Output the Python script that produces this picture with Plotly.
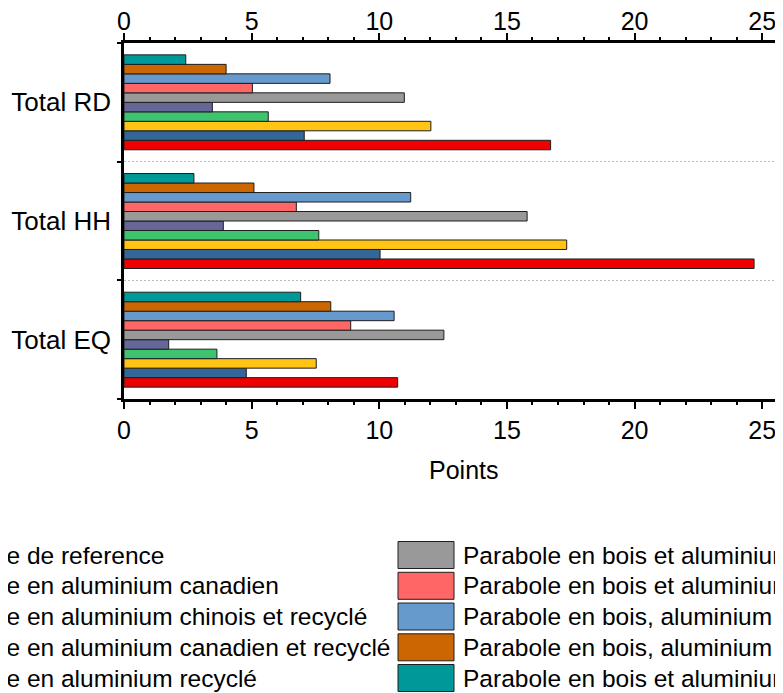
import plotly.graph_objects as go

categories = ["Total EQ", "Total HH", "Total RD"]

series_names = [
    "Parabole de reference",
    "Parabole en aluminium canadien",
    "Parabole en aluminium chinois et recyclé",
    "Parabole en aluminium canadien et recyclé",
    "Parabole en aluminium recyclé",
    "Parabole en bois et aluminium chinois",
    "Parabole en bois et aluminium canadien",
    "Parabole en bois, aluminium chinois et recyclé",
    "Parabole en bois, aluminium canadien et recyclé",
    "Parabole en bois et aluminium recyclé",
]

# values per series, in the order of categories (EQ, HH, RD)
reference = [10.72, 24.68, 16.71]
alu_canadien = [4.79, 10.03, 7.06]
alu_chinois_recycle = [7.53, 17.34, 12.02]
alu_canadien_recycle = [3.64, 7.63, 5.65]
alu_recycle = [1.75, 3.89, 3.46]
bois_alu_chinois = [12.53, 15.79, 10.98]
bois_alu_canadien = [8.88, 6.75, 5.03]
bois_alu_chinois_recycle = [10.58, 11.23, 8.07]
bois_alu_canadien_recycle = [8.10, 5.09, 4.00]
bois_alu_recycle = [6.92, 2.74, 2.42]

series_values = [
    reference, alu_canadien, alu_chinois_recycle, alu_canadien_recycle, alu_recycle,
    bois_alu_chinois, bois_alu_canadien, bois_alu_chinois_recycle,
    bois_alu_canadien_recycle, bois_alu_recycle,
]

colors = [
    "#EE0000", "#336699", "#FFC414", "#3EC46E", "#666699",
    "#999999", "#FF6666", "#6699CC", "#CC6600", "#009999",
]

FONT = "Liberation Sans, Arial, sans-serif"
# the page body adds an 8px offset, so the figure is 8px smaller than the window
OFF = 8
W, H = 783 - OFF, 693 - OFF
L, R, T, B = 116, 0, 35, 294
PW, PH = W - L - R, H - T - B


def px_x(x):
    # page pixel -> paper fraction
    return (x - OFF - L) / PW


def px_y(y):
    return (H - B - (y - OFF)) / PH


def main():
    fig = go.Figure()
    for name, vals, col in zip(series_names, series_values, colors):
        fig.add_trace(go.Bar(
            y=categories, x=vals, name=name, orientation="h",
            marker=dict(color=col, line=dict(color="#1e1e1e", width=1)),
            showlegend=False,
        ))
    # dummy trace so the top axis is drawn
    fig.add_trace(go.Scatter(
        x=[0], y=[categories[0]], xaxis="x2", mode="markers",
        marker=dict(opacity=0), showlegend=False, hoverinfo="skip",
    ))

    xmax = PW / 25.53
    axis_common = dict(
        range=[0, xmax], dtick=5, tick0=0, showline=True, linecolor="black",
        linewidth=2.5, ticks="outside", ticklen=7, tickwidth=2, tickcolor="black",
        minor=dict(dtick=1, ticks="outside", ticklen=3, tickwidth=2, tickcolor="black"),
        showgrid=False, zeroline=False, automargin=False,
        tickfont=dict(size=25, color="black"),
    )
    fig.update_layout(
        width=W, height=H,
        margin=dict(l=L, r=R, t=T, b=B, pad=0),
        plot_bgcolor="white", paper_bgcolor="white",
        font=dict(family=FONT, color="black"),
        barmode="group", bargap=0.2, bargroupgap=0,
        xaxis=dict(side="bottom", anchor="y", **axis_common),
        xaxis2=dict(side="top", anchor="y", overlaying="x", ticklabelstandoff=-7,
                    **axis_common),
        yaxis=dict(
            type="category", categoryorder="array", categoryarray=categories,
            range=[-0.5, 2.5], tickson="boundaries", showline=True, linecolor="black",
            linewidth=2.5, ticks="outside", ticklen=4, tickwidth=2, tickcolor="black",
            showgrid=True, gridcolor="#bdbdbd", gridwidth=1, griddash="2px,2px",
            tickfont=dict(size=26, color="black"), zeroline=False, automargin=False,
            ticklabelstandoff=5,
        ),
    )

    fig.add_annotation(
        text="Points", xref="paper", yref="paper", x=px_x(463), y=px_y(470),
        xanchor="center", yanchor="middle", showarrow=False,
        font=dict(size=25, color="black"),
    )

    # two-column legend drawn by hand (left column partly off the page)
    col_text_x = [-80.5, 461.0]
    col_swatch_x = [-149.0, 398.0]
    row_y = [555.0, 585.8, 616.5, 647.3, 678.0]
    for i, (name, col) in enumerate(zip(series_names, colors)):
        c, r = divmod(i, 5)
        yc = row_y[r]
        fig.add_shape(
            type="rect", xref="paper", yref="paper",
            x0=px_x(col_swatch_x[c]), x1=px_x(col_swatch_x[c] + 56),
            y0=px_y(yc - 13.5), y1=px_y(yc + 13.5),
            fillcolor=col, line=dict(color="#1e1e1e", width=1),
        )
        fig.add_annotation(
            text=name, xref="paper", yref="paper",
            x=px_x(col_text_x[c]), y=px_y(yc),
            xanchor="left", yanchor="middle", showarrow=False,
            font=dict(size=24.5, color="black"),
        )

    fig.write_html("out.html")


if __name__ == "__main__":
    main()
